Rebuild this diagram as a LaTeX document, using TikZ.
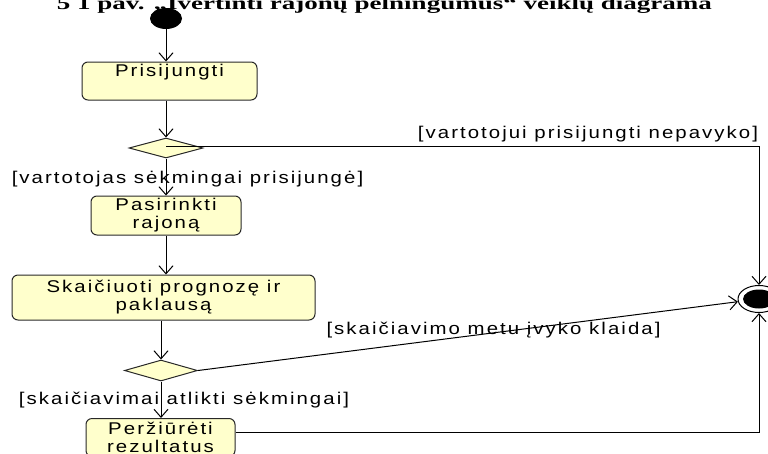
\documentclass[tikz,border=0pt]{standalone}
\usepackage{fontspec}
\setmainfont{Liberation Sans}
\newfontfamily\diagfont{Liberation Sans}[FakeStretch=1.2,LetterSpace=12]
\newfontfamily\titlefont{Liberation Serif}[FakeStretch=1.5]
\usetikzlibrary{shapes.geometric,arrows.meta,calc}

\definecolor{actfill}{RGB}{255,255,204}
\definecolor{edge}{RGB}{40,40,40}

\tikzset{
  activity/.style={draw=edge, line width=1pt, fill=actfill, rounded corners=6pt,
    align=center, inner sep=1pt, font=\diagfont\fontsize{17pt}{18pt}\selectfont},
  decision/.style={diamond, draw=edge, line width=1pt, fill=actfill, inner sep=0pt},
  guard/.style={inner sep=0pt, font=\diagfont\fontsize{17pt}{18pt}\selectfont},
  flow/.style={draw=black, line width=1pt, -{Straight Barb[length=8pt,width=14pt]}},
}

\begin{document}
\begin{tikzpicture}[x=1pt,y=-1pt]
\useasboundingbox (0,0) rectangle (768,453);

% caption of the figure
\node[anchor=base east, inner sep=0pt, font=\titlefont\bfseries\fontsize{18pt}{20pt}\selectfont]
  (title) at (712,9) {5 1 pav. „Įvertinti rajonų pelningumus“ veiklų diagrama};

% initial and final states
\node[ellipse, fill=black, minimum width=32pt, minimum height=21pt, inner sep=0pt] (start) at (166,18.5) {};
\node[ellipse, draw=black, line width=1pt, fill=white, minimum width=42pt, minimum height=27pt, inner sep=0pt] (final) at (759,299) {};
\node[ellipse, fill=black, minimum width=32pt, minimum height=19pt, inner sep=0pt] (finaldot) at (final.center) {};

% activities
\node[activity, minimum width=175pt, minimum height=38pt, text height=13pt, text depth=22pt] (login) at (169.5,81) {Prisijungti};
\node[activity, minimum width=150pt, minimum height=39pt] (region) at (166,215.5) {Pasirinkti\\rajoną};
\node[activity, minimum width=303pt, minimum height=45pt] (calc) at (163.5,297.5) {Skaičiuoti prognozę ir\\paklausą};
\node[activity, minimum width=149pt, minimum height=38pt, anchor=north] (review) at (160.5,418) {Peržiūrėti\\rezultatus};

% decisions
\node[decision, minimum width=74pt, minimum height=20pt] (d1) at (166,148) {};
\node[decision, minimum width=73pt, minimum height=21pt] (d2) at (161,370.5) {};

% guards
\node[guard] (gfail) at (588,134.5) {[vartotojui prisijungti nepavyko]};
\node[guard] (gok) at (187.5,179) {[vartotojas sėkmingai prisijungė]};
\node[guard] (gerr) at (493.5,330) {[skaičiavimo metu įvyko klaida]};
\node[guard] (gdone) at (184,400.5) {[skaičiavimai atlikti sėkmingai]};

% control flows
\draw[flow] (start) -- (start |- login.north);
\draw[flow] (d1.north |- login.south) -- (d1.north);
\draw[flow] ([yshift=2pt]d1.center) -| (final.north);
\draw[flow] (d1.south) -- (region.north);
\draw[flow] (region.south) -- (region.south |- calc.north);
\draw[flow] (d2.north |- calc.south) -- (d2.north);
\draw[flow] (d2.east) -- (final);
\draw[flow] (d2.south) -- (d2.south |- review.north);
\draw[flow] ([yshift=5pt]review.east) -| (final.south);
\end{tikzpicture}
\end{document}
